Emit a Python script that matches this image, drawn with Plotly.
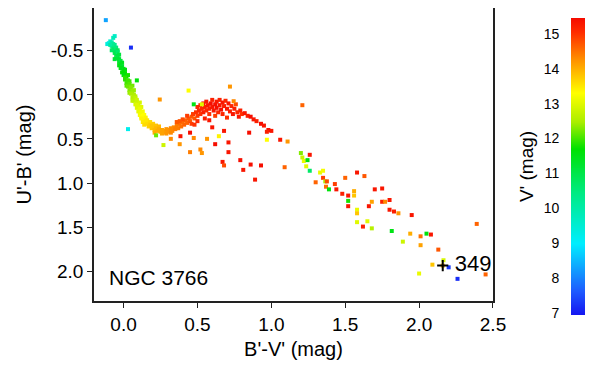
import numpy as np
import plotly.graph_objects as go

# upper main sequence + turn-over (B'-V', U'-B', V')
ms_bv = [-0.06, -0.07, -0.10, -0.09, -0.08, -0.11, -0.07, -0.08, -0.06, -0.09,
         -0.07, -0.06, -0.05, -0.08, -0.04, -0.06, -0.05, -0.04, -0.03, -0.04,
         -0.05, -0.06, -0.03, -0.03, -0.02, -0.01, -0.02, -0.03, -0.01, -0.02,
         0.00, 0.01, 0.00, -0.01, 0.01, 0.00, 0.03, 0.02, 0.01, 0.01,
         0.03, 0.04, 0.02, 0.04, 0.02, 0.06, 0.03, 0.05, 0.04, 0.07,
         0.06, 0.04, 0.05, 0.07, 0.08, 0.06, 0.08, 0.06, 0.07, 0.09,
         0.09, 0.11, 0.08, 0.10, 0.09, 0.12, 0.09, 0.11, 0.11, 0.10,
         0.13, 0.12, 0.11, 0.14, 0.13, 0.12, 0.15, 0.12, 0.14, 0.16,
         0.13, 0.15, 0.18, 0.16, 0.14, 0.20, 0.17, 0.18, 0.19, 0.19,
         0.22, 0.20, 0.21, 0.24, 0.22, 0.21, 0.23, 0.24, 0.25, 0.26,
         0.26, 0.27, 0.28, 0.29, 0.29, 0.30, 0.31, 0.32, 0.32, 0.33,
         0.34, 0.35, 0.36, 0.37, 0.38, 0.39, 0.40, 0.41, 0.42, 0.43,
         0.44, 0.45, 0.46]
ms_ub = [-0.66, -0.64, -0.58, -0.60, -0.59, -0.57, -0.57, -0.55, -0.56, -0.56,
         -0.52, -0.50, -0.53, -0.50, -0.50, -0.47, -0.45, -0.48, -0.45, -0.43,
         -0.41, -0.40, -0.40, -0.37, -0.38, -0.36, -0.34, -0.33, -0.32, -0.30,
         -0.29, -0.28, -0.26, -0.25, -0.24, -0.22, -0.22, -0.20, -0.19, -0.17,
         -0.16, -0.15, -0.13, -0.12, -0.10, -0.10, -0.09, -0.08, -0.05, -0.05,
         -0.04, -0.02, -0.01, 0.00, 0.02, 0.03, 0.04, 0.07, 0.07, 0.06,
         0.08, 0.09, 0.11, 0.12, 0.12, 0.14, 0.15, 0.16, 0.18, 0.19,
         0.19, 0.20, 0.23, 0.23, 0.24, 0.25, 0.26, 0.27, 0.28, 0.29,
         0.31, 0.30, 0.31, 0.33, 0.34, 0.33, 0.36, 0.34, 0.35, 0.38,
         0.35, 0.36, 0.40, 0.36, 0.38, 0.43, 0.41, 0.39, 0.42, 0.40,
         0.44, 0.43, 0.41, 0.44, 0.39, 0.42, 0.40, 0.43, 0.38, 0.41,
         0.37, 0.39, 0.35, 0.38, 0.33, 0.36, 0.31, 0.34, 0.29, 0.32,
         0.27, 0.30, 0.25]
ms_v = [9.6, 9.8, 9.3, 9.5, 10.0, 9.4, 10.2, 10.4, 10.3, 10.1,
        10.6, 10.8, 10.5, 10.7, 10.9, 10.9, 11.0, 10.7, 11.1, 11.1,
        11.0, 11.2, 11.2, 11.3, 11.1, 11.4, 11.4, 11.5, 11.3, 11.5,
        11.4, 11.6, 11.6, 11.7, 11.7, 11.6, 11.8, 11.8, 11.9, 11.9,
        12.0, 12.0, 12.0, 12.1, 12.1, 12.2, 12.2, 12.3, 12.3, 12.4,
        12.4, 12.4, 12.5, 12.5, 12.6, 12.6, 12.7, 12.7, 12.7, 12.8,
        12.8, 12.9, 12.9, 12.9, 13.0, 13.0, 13.0, 13.1, 13.1, 13.1,
        13.2, 13.2, 13.2, 13.3, 13.3, 13.3, 13.4, 13.4, 13.4, 13.5,
        13.5, 13.5, 13.6, 13.6, 13.6, 13.7, 13.7, 13.7, 13.8, 13.8,
        13.8, 13.8, 13.9, 13.9, 13.9, 14.0, 14.0, 14.0, 14.0, 14.1,
        14.1, 14.1, 14.1, 14.2, 14.2, 14.2, 14.2, 14.3, 14.3, 14.3,
        14.3, 14.4, 14.4, 14.4, 14.5, 14.5, 14.5, 14.6, 14.6, 14.6,
        14.7, 14.7, 14.7]

# red clump / bump of faint stars
bump_bv = [0.40, 0.43, 0.38, 0.46, 0.36, 0.48, 0.47, 0.48, 0.49, 0.50,
           0.50, 0.51, 0.52, 0.50, 0.52, 0.53, 0.54, 0.54, 0.55, 0.55,
           0.56, 0.56, 0.57, 0.58, 0.58, 0.59, 0.60, 0.60, 0.61, 0.62,
           0.62, 0.63, 0.63, 0.64, 0.65, 0.65, 0.66, 0.67, 0.67, 0.68,
           0.69, 0.70, 0.70, 0.71, 0.72, 0.73, 0.74, 0.75, 0.76, 0.77,
           0.78, 0.79, 0.80, 0.82, 0.84, 0.86, 0.88, 0.90, 0.93, 0.95,
           0.98, 1.00, 0.97, 0.58, 0.60, 0.68, 0.45]
bump_ub = [0.28, 0.24, 0.30, 0.33, 0.31, 0.34, 0.22, 0.27, 0.20, 0.24,
           0.14, 0.18, 0.22, 0.30, 0.12, 0.16, 0.20, 0.10, 0.14, 0.27,
           0.18, 0.08, 0.12, 0.16, 0.22, 0.10, 0.14, 0.06, 0.18, 0.11,
           0.24, 0.08, 0.15, 0.20, 0.06, 0.12, 0.17, 0.09, 0.22, 0.13,
           0.07, 0.16, 0.26, 0.10, 0.19, 0.13, 0.22, 0.16, 0.11, 0.20,
           0.25, 0.18, 0.22, 0.21, 0.24, 0.25, 0.28, 0.30, 0.33, 0.35,
           0.40, 0.41, 0.42, 0.29, 0.37, 0.41, 0.43]
bump_v = [14.8, 14.9, 14.7, 14.9, 14.7, 15.0, 14.9, 14.7, 15.0, 14.9,
          15.1, 15.1, 15.0, 15.1, 15.2, 15.1, 15.2, 15.3, 15.2, 15.2,
          15.1, 15.3, 15.3, 15.2, 15.0, 15.4, 15.3, 15.2, 15.3, 15.4,
          14.9, 15.3, 15.4, 15.1, 15.2, 15.3, 15.4, 15.3, 15.1, 15.2,
          15.1, 15.3, 15.0, 15.3, 15.2, 15.1, 15.3, 15.2, 14.8, 15.1,
          15.3, 15.2, 15.0, 15.3, 15.2, 15.4, 15.3, 15.2, 15.4, 15.3,
          15.4, 15.3, 15.2, 15.3, 15.3, 15.3, 15.4]

# scattered / reddened stars
field_bv = [-0.12, 0.05, 0.03, 0.09, 0.245, 0.44, 0.72, 0.745, 0.475, 0.53,
            1.21, 0.22, 0.27, 0.32, 0.385, 0.38, 0.475, 0.565, 0.45, 0.52,
            0.53, 0.62, 0.645, 0.71, 0.71, 0.67, 0.68, 0.79, 0.81, 0.86,
            0.93, 0.89, 0.85, 0.97, 1.06, 1.11, 1.09, 1.20, 1.21, 1.22,
            1.245, 1.26, 1.236, 1.26, 1.33, 1.35, 1.35, 1.30, 1.365, 1.376,
            1.37, 1.39, 1.43, 1.44, 1.48, 1.50, 1.52, 1.52, 1.52, 1.56,
            1.56, 1.58, 1.63, 1.58, 1.58, 1.58, 1.62, 1.65, 1.68, 1.66,
            1.68, 1.70, 1.75, 1.75, 1.77, 1.80, 1.80, 1.83, 1.86, 1.815,
            1.95, 1.89, 1.94, 2.01, 2.01, 2.05, 2.08, 2.13, 2.00, 2.09,
            2.16, 2.165, 2.20, 2.26, 2.39, 2.45]
field_ub = [-0.84, -0.53, 0.39, -0.16, 0.056, -0.045, -0.09, 0.075, 0.11, 0.11,
            0.12, 0.46, 0.57, 0.50, 0.47, 0.56, 0.49, 0.50, 0.65, 0.62,
            0.66, 0.56, 0.47, 0.54, 0.65, 0.76, 0.80, 0.74, 0.85, 0.79,
            0.80, 0.96, 0.43, 0.51, 0.51, 0.53, 0.82, 0.66, 0.71, 0.75,
            0.74, 0.68, 0.81, 0.86, 0.88, 0.86, 0.94, 0.99, 0.98, 0.98,
            1.04, 1.07, 1.01, 1.07, 1.12, 0.94, 1.14, 1.20, 1.26, 1.09,
            1.14, 0.88, 0.92, 1.30, 1.34, 1.44, 1.49, 1.43, 1.51, 1.26,
            1.21, 1.07, 1.06, 1.21, 1.21, 1.19, 1.30, 1.32, 1.34, 1.54,
            1.36, 1.66, 1.57, 1.70, 1.60, 1.57, 1.58, 1.75, 2.02, 1.92,
            1.93, 1.87, 1.95, 2.08, 1.46, 2.03]
field_v = [8.3, 7.2, 9.2, 11.6, 14.2, 13.3, 14.2, 14.3, 11.5, 13.0,
           14.6, 12.2, 12.8, 14.3, 15.3, 14.2, 14.3, 14.2, 14.4, 14.3,
           14.2, 15.4, 13.4, 15.3, 15.3, 15.3, 14.8, 15.4, 15.3, 15.4,
           15.4, 15.3, 15.4, 13.3, 15.3, 14.2, 14.6, 12.3, 12.8, 13.1,
           11.6, 15.3, 13.0, 10.7, 13.1, 13.2, 14.9, 14.6, 12.5, 14.8,
           14.5, 11.6, 14.9, 15.3, 15.2, 14.6, 15.3, 11.8, 15.3, 14.0,
           13.8, 15.3, 14.7, 13.1, 13.8, 13.0, 15.2, 13.0, 12.6, 15.3,
           14.1, 15.3, 15.3, 15.2, 14.3, 15.3, 15.3, 15.2, 14.2, 11.5,
           15.3, 12.8, 14.0, 14.1, 14.5, 11.6, 15.3, 14.7, 13.1, 13.8,
           14.0, 12.9, 7.3, 7.2, 14.6, 14.6]

star_bv = [2.16]
star_ub = [1.93]
star_label = "349"
cluster_name = "NGC 3766"

x_ticks = [0.0, 0.5, 1.0, 1.5, 2.0, 2.5]
x_labels = ["0.0", "0.5", "1.0", "1.5", "2.0", "2.5"]
y_ticks = [-0.5, 0.0, 0.5, 1.0, 1.5, 2.0]
y_labels = ["-0.5", "0.0", "0.5", "1.0", "1.5", "2.0"]
v_ticks = [7, 8, 9, 10, 11, 12, 13, 14, 15]

vmin, vmax = 6.95, 15.45
rainbow = [[0.0, "rgb(20,20,240)"], [0.08, "rgb(30,90,255)"], [0.24, "rgb(0,238,255)"],
           [0.41, "rgb(0,235,130)"], [0.56, "rgb(0,225,0)"], [0.65, "rgb(170,238,0)"],
           [0.747, "rgb(255,255,0)"], [0.853, "rgb(255,150,0)"], [0.95, "rgb(255,45,0)"],
           [1.0, "rgb(245,10,0)"]]
FONT = "Liberation Sans, Arial, sans-serif"

fig = go.Figure()
for bv, ub, v in [(ms_bv, ms_ub, ms_v), (bump_bv, bump_ub, bump_v), (field_bv, field_ub, field_v)]:
    fig.add_trace(go.Scatter(
        x=bv, y=ub, mode="markers",
        marker=dict(symbol="square", size=4, color=v, colorscale=rainbow,
                    cmin=vmin, cmax=vmax, showscale=False, line=dict(width=0)),
        showlegend=False))

fig.add_trace(go.Scatter(
    x=star_bv, y=star_ub, mode="markers+text", text=[" " + star_label],
    textposition="middle right", textfont=dict(family=FONT, size=22, color="black"),
    marker=dict(symbol="cross-thin", size=8, line=dict(width=2, color="black")),
    showlegend=False, cliponaxis=False))

# colour bar as a thin heatmap on its own axes
levels = np.linspace(vmin, vmax, 300)
fig.add_trace(go.Heatmap(
    x=[0], y=levels, z=[[l] for l in levels], colorscale=rainbow,
    zmin=vmin, zmax=vmax, showscale=False, xaxis="x2", yaxis="y2",
    hoverinfo="skip"))

fig.add_annotation(x=-0.115, y=2.07, xref="x", yref="y", text=cluster_name,
                   showarrow=False, xanchor="left", yanchor="middle",
                   font=dict(family=FONT, size=21, color="black"))

axis_common = dict(showgrid=False, zeroline=False, showline=True, linecolor="#222",
                   linewidth=1.5, mirror=True, ticks="outside", ticklen=5,
                   tickcolor="#222", automargin=False,
                   tickfont=dict(family=FONT, size=19, color="black"))

# page body has an 8px margin, so the layout is shifted up/left by that much
fig.update_layout(
    width=600, height=375,
    margin=dict(l=86, r=23, t=0, b=68),
    paper_bgcolor="white", plot_bgcolor="white",
    font=dict(family=FONT, color="black"),
    xaxis=dict(domain=[0, 0.8126], range=[-0.2, 2.5], tickvals=x_ticks,
               ticktext=x_labels,
               title=dict(text="B'-V' (mag)", font=dict(family=FONT, size=20), standoff=8),
               **axis_common),
    yaxis=dict(domain=[0.0456, 1], range=[2.33, -0.977], tickvals=y_ticks,
               ticktext=y_labels,
               title=dict(text="U'-B' (mag)", font=dict(family=FONT, size=20), standoff=14),
               **axis_common),
    xaxis2=dict(domain=[0.9715, 1.0], anchor="y2", showticklabels=False,
                showgrid=False, zeroline=False, range=[-0.5, 0.5], automargin=False),
    yaxis2=dict(domain=[0, 0.9674], anchor="x2", side="left", range=[vmin, vmax],
                tickvals=v_ticks, showgrid=False, zeroline=False, automargin=False,
                ticks="outside", ticklen=8, tickcolor="rgba(0,0,0,0)",
                tickfont=dict(family=FONT, size=14, color="black"),
                title=dict(text="V' (mag)", font=dict(family=FONT, size=19), standoff=4)),
)

fig.write_html("out.html")
